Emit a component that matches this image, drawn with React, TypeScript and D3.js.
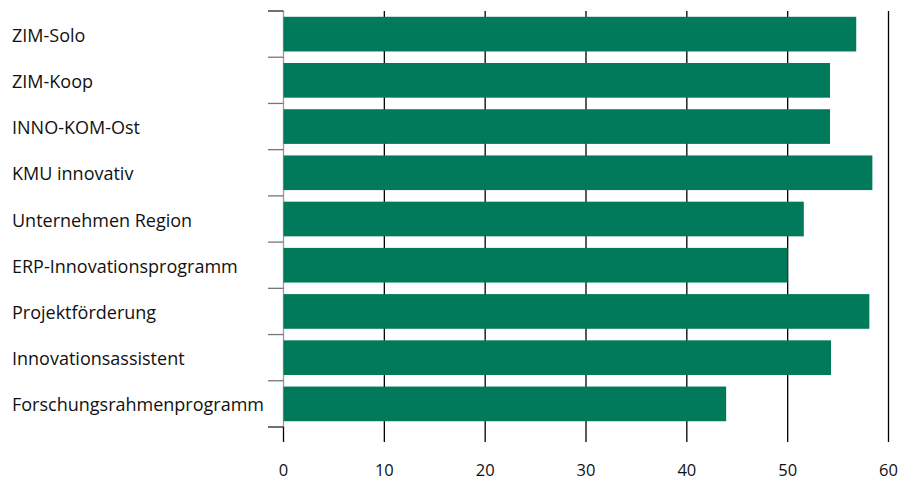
import React from "react";
import * as d3 from "d3";

const categories = [
  "ZIM-Solo",
  "ZIM-Koop",
  "INNO-KOM-Ost",
  "KMU innovativ",
  "Unternehmen Region",
  "ERP-Innovationsprogramm",
  "Projektförderung",
  "Innovationsassistent",
  "Forschungsrahmenprogramm",
];
const values = [56.8, 54.2, 54.2, 58.4, 51.6, 50.0, 58.1, 54.3, 43.9];
const xTicks = [0, 10, 20, 30, 40, 50, 60];

const W = 899;
const H = 480;
const FONT = "'Open Sans', sans-serif";
const GREEN = "#007A5A";

export default function App() {
  const x = d3.scaleLinear().domain([0, 60]).range([283.5, 888.5]);
  const y = d3
    .scaleBand<string>()
    .domain(categories)
    .range([11, 427])
    .paddingInner(0.25)
    .paddingOuter(0.125);
  const step = y.step();
  const bottom = 427;
  const top = 11;

  return (
    <svg
      width={W}
      height={H}
      style={{ position: "fixed", left: 0, top: 0, background: "#fff" }}
      fontFamily={FONT}
    >
      {/* vertical gridlines */}
      {xTicks.map((t) => (
        <line
          key={"g" + t}
          x1={x(t)}
          x2={x(t)}
          y1={t === 0 ? bottom : top}
          y2={bottom + 15}
          stroke="#000"
          strokeWidth={1.3}
        />
      ))}
      {/* y axis line */}
      <line x1={x(0)} x2={x(0)} y1={top} y2={bottom} stroke="#9a9a9a" strokeWidth={1.3} />
      {/* category ticks */}
      {d3.range(categories.length + 1).map((i) => {
        const yy = top + i * step;
        return (
          <line
            key={"t" + i}
            x1={268}
            x2={x(0)}
            y1={yy}
            y2={yy}
            stroke={i === 0 || i === categories.length ? "#222" : "#777"}
            strokeWidth={1.3}
          />
        );
      })}
      {/* bars */}
      {categories.map((c, i) => (
        <rect
          key={c}
          x={x(0)}
          y={y(c)!}
          width={x(values[i]) - x(0)}
          height={y.bandwidth()}
          fill={GREEN}
        />
      ))}
      {/* category labels */}
      {categories.map((c) => (
        <text
          key={"l" + c}
          x={12}
          y={y(c)! + y.bandwidth() / 2 + 7.6}
          fontSize={18}
          fill="#111"
        >
          {c}
        </text>
      ))}
      {/* x tick labels */}
      {xTicks.map((t) => (
        <text
          key={"x" + t}
          x={x(t)}
          y={476}
          textAnchor="middle"
          fontSize={16.5}
          fill="#111"
        >
          {t}
        </text>
      ))}
    </svg>
  );
}
